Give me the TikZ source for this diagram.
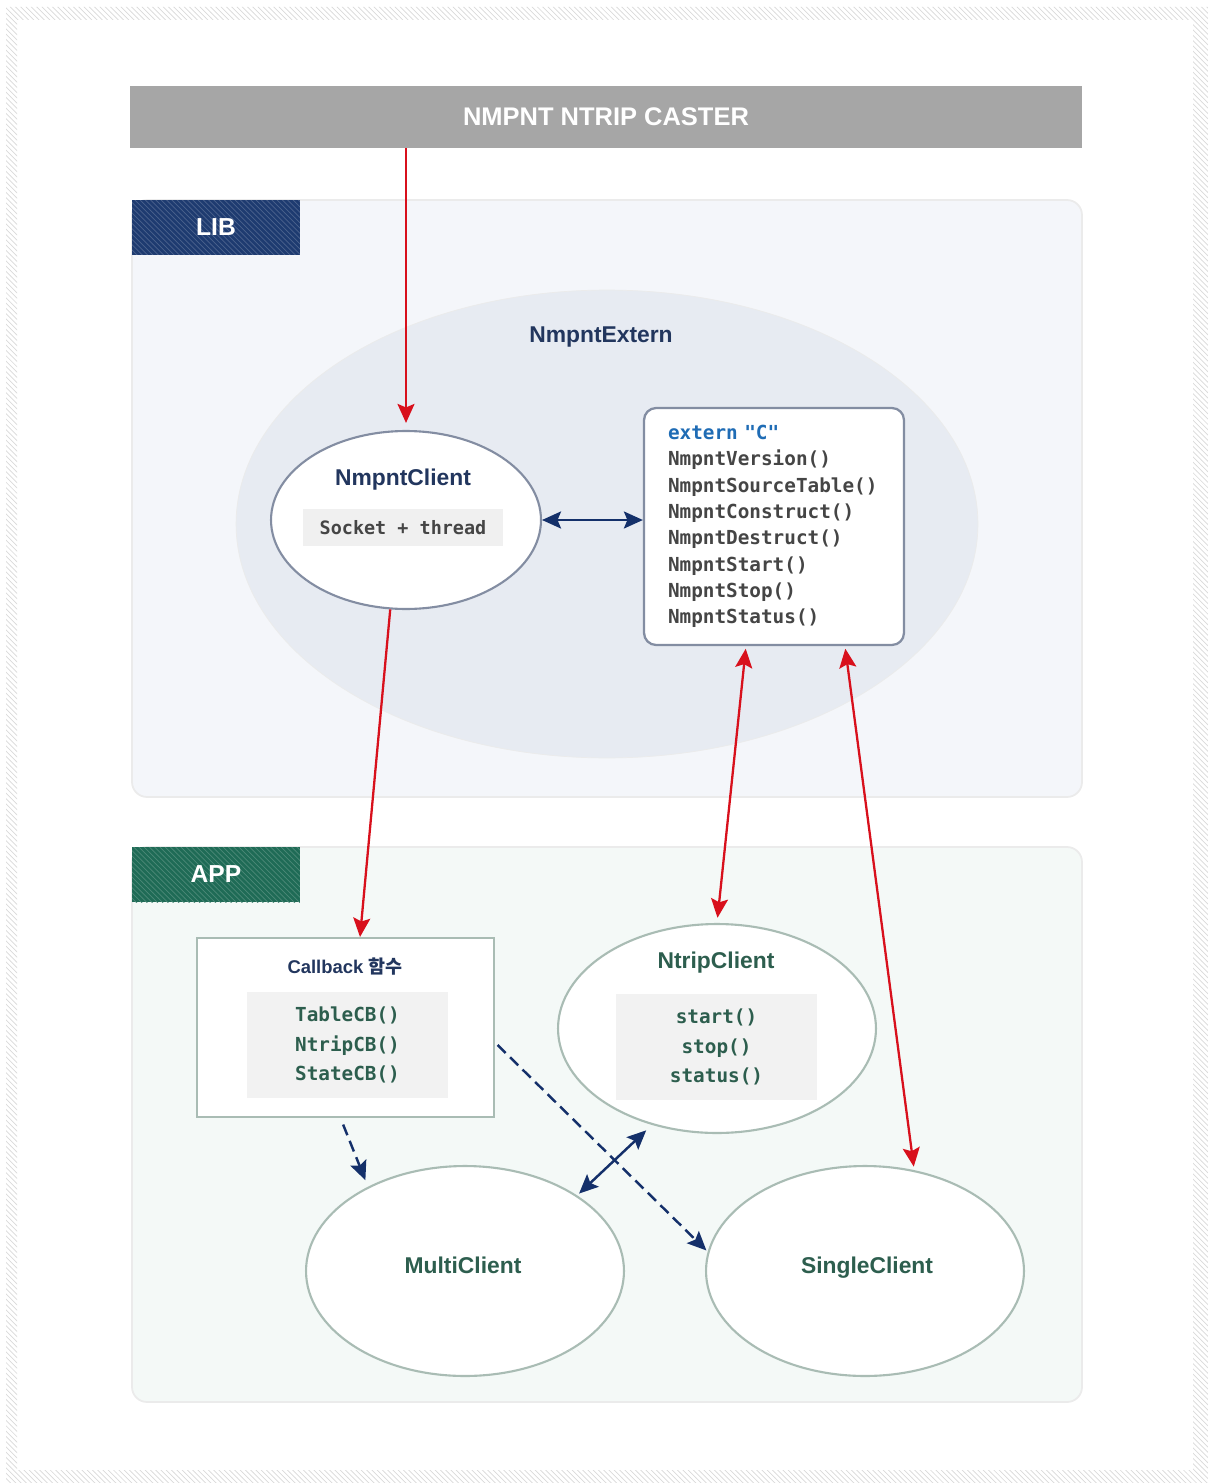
\documentclass[tikz,border=0pt]{standalone}
\usepackage{fontspec}
\setmainfont{Liberation Sans}
\newfontfamily\codefont{DejaVu Sans Mono}
\newfontfamily\kofont{Noto Sans CJK KR}
\usetikzlibrary{shapes.geometric,arrows.meta,patterns}
\definecolor{casterGray}{HTML}{A6A6A6}
\definecolor{libNavy}{HTML}{1E3B70}
\definecolor{appGreen}{HTML}{1F6B56}
\definecolor{libBg}{HTML}{F4F6FA}
\definecolor{appBg}{HTML}{F4F9F7}
\definecolor{externBg}{HTML}{E7EBF2}
\definecolor{linkRed}{HTML}{D8101C}
\definecolor{linkNavy}{HTML}{14306A}
\definecolor{titleNavy}{HTML}{22365E}
\definecolor{titleGreen}{HTML}{2D5E4E}
\definecolor{codeGray}{HTML}{454545}
\definecolor{externBlue}{HTML}{1F6CB5}
\definecolor{libLine}{HTML}{838DA2}
\definecolor{appLine}{HTML}{A9BCB4}
\begin{document}
\begin{tikzpicture}[x=0.02cm, y=-0.02cm,
  >={Stealth[length=3.8mm,width=3.4mm,inset=0.7mm]},
  panel/.style={rounded corners=0.3cm, line width=1pt},
  tag/.style={minimum width=3.36cm, minimum height=1.1cm, inner sep=0pt,
    text=white, font=\fontsize{14}{16}\selectfont\bfseries},
  title/.style={font=\fontsize{13}{15}\selectfont\bfseries},
  code/.style={font=\codefont\bfseries\fontsize{11}{15}\selectfont},
  codebox/.style={code, fill=black!5, minimum width=4.02cm, minimum height=2.12cm,
    align=center, inner sep=0pt},
  oval/.style={ellipse, fill=white, line width=1.2pt, inner sep=0pt},
  redlink/.style={linkRed, line width=1.3pt},
  navylink/.style={linkNavy, line width=1.4pt},
  dashlink/.style={linkNavy, line width=1.4pt, dash pattern=on 6.5pt off 3.5pt}]
  \useasboundingbox (0,0) rectangle (1208,1483);
  % hatched outer frame
  \fill[pattern=north west lines, pattern color=black!15, even odd rule]
    (6,7) rectangle (1208,1483) (17,20) rectangle (1193,1470);
  % caster bar
  \node[fill=casterGray, minimum width=19.04cm, minimum height=1.24cm, inner sep=0pt,
    text=white, font=\fontsize{14.5}{17}\selectfont\bfseries] (caster) at (606,117)
    {NMPNT NTRIP CASTER};
  % LIB panel
  \draw[panel, draw=black!8, fill=libBg] (132,200) rectangle (1082,797);
  \node[tag, fill=libNavy, postaction={pattern=north west lines, pattern color=libNavy!80!white}]
    (libtag) at (216,227.5) {};
  \node[tag] at (libtag) {LIB};
  \node[ellipse, fill=externBg, draw=black!8, minimum width=14.84cm, minimum height=9.36cm]
    (nmpntextern) at (607,524) {};
  \node[title, text=titleNavy] (externtitle) at (601,337) {NmpntExtern};
  \node[oval, draw=libLine, minimum width=5.4cm, minimum height=3.56cm] (nclient) at (406,520) {};
  \node[title, text=titleNavy] (nclienttitle) at (403,480) {NmpntClient};
  \node[code, fill=black!6, text=codeGray, minimum width=4cm, minimum height=0.74cm,
    inner sep=0pt, font=\codefont\bfseries\fontsize{10.5}{12}\selectfont] (socket) at (403,527.5)
    {Socket + thread};
  \node[code, text=codeGray, draw=libLine, fill=white, line width=1.3pt, rounded corners=0.24cm,
    text width=4.24cm, align=left, inner xsep=0.48cm, minimum height=4.74cm] (api) at (774,526.5)
    {{\color{externBlue}extern "C"}\\NmpntVersion()\\NmpntSourceTable()\\NmpntConstruct()\\
     NmpntDestruct()\\NmpntStart()\\NmpntStop()\\NmpntStatus()};
  % APP panel
  \draw[panel, draw=black!8, fill=appBg] (132,847) rectangle (1082,1402);
  \node[tag, fill=appGreen, postaction={pattern=north west lines, pattern color=appGreen!80!white}]
    (apptag) at (216,874.5) {};
  \node[tag] at (apptag) {APP};
  \node[draw=appLine, fill=white, line width=1.2pt, minimum width=5.94cm, minimum height=3.58cm]
    (cb) at (345.5,1027.5) {};
  \node[text=titleNavy, font=\fontsize{10.5}{12}\selectfont\bfseries] (cbtitle) at (345,967)
    {Callback {\kofont\bfseries 함수}};
  \node[codebox, text=titleGreen, font=\codefont\bfseries\fontsize{11}{16.8}\selectfont]
    (cbcode) at (347.5,1045) {TableCB()\\NtripCB()\\StateCB()};
  \node[oval, draw=appLine, minimum width=6.36cm, minimum height=4.18cm] (ntrip) at (717,1028.5) {};
  \node[title, text=titleGreen] (ntriptitle) at (716,963) {NtripClient};
  \node[codebox, text=titleGreen, font=\codefont\bfseries\fontsize{11}{16.8}\selectfont]
    (ntripcode) at (716.5,1047) {start()\\stop()\\status()};
  \node[oval, draw=appLine, minimum width=6.36cm, minimum height=4.2cm] (multi) at (465,1271) {};
  \node[title, text=titleGreen] at (463,1265) {MultiClient};
  \node[oval, draw=appLine, minimum width=6.36cm, minimum height=4.2cm] (single) at (865,1271) {};
  \node[title, text=titleGreen] at (867,1268) {SingleClient};
  % red links
  \draw[redlink, ->, shorten >=4pt] (caster.south -| nclient.north) -- (nclient.north);
  \draw[redlink, ->] (nclient.260) -- ([xshift=0.29cm]cb.north);
  \draw[redlink, <->, shorten <=1.5pt, shorten >=3pt]
    ([xshift=-0.56cm]api.south) -- (ntrip.north);
  \draw[redlink, <->, shorten <=1.5pt, shorten >=2pt]
    ([xshift=1.42cm]api.south) -- (single.64);
  % navy links
  \draw[navylink, <->] (nclient.east) -- (nclient.east -| api.west);
  \draw[navylink, <->, shorten <=4.5pt, shorten >=1.5pt] (ntrip.236) -- (multi.34);
  \draw[dashlink, ->, shorten <=4pt, shorten >=4pt] ([xshift=-0.1cm]cb.south) -- (multi.139);
  \draw[dashlink, ->, shorten <=2pt, shorten >=1pt] ([yshift=-0.3cm]cb.east) -- (single.173);
\end{tikzpicture}
\end{document}
